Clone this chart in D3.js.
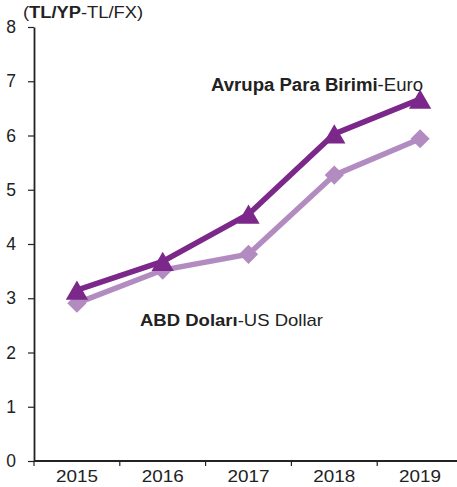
<!DOCTYPE html>
<html>
<head>
<meta charset="utf-8">
<script src="https://cdn.jsdelivr.net/npm/d3@7"></script>
<style>
  body { margin: 0; background: #fff; }
  text { font-family: Arial, "Liberation Sans", sans-serif; fill: #222; }
</style>
</head>
<body>
<div id="chart"></div>
<script>
const years = ['2015', '2016', '2017', '2018', '2019'];
const euroValues = [3.15, 3.68, 4.55, 6.03, 6.67];
const usdValues = [2.91, 3.52, 3.81, 5.27, 5.94];
const yTicks = [0, 1, 2, 3, 4, 5, 6, 7, 8];

const width = 457, height = 487;
const margin = {top: 27, right: -6, bottom: 26, left: 34};
const innerW = width - margin.left - margin.right;
const innerH = height - margin.top - margin.bottom;

const svg = d3.select('#chart').append('svg')
  .attr('width', width)
  .attr('height', height);

const g = svg.append('g')
  .attr('transform', `translate(${margin.left},${margin.top})`);

const x = d3.scaleBand().domain(years).range([0, innerW]);
const y = d3.scaleLinear().domain([0, 8]).range([innerH, 0]);

// y axis
const yAxis = g.append('g')
  .call(d3.axisLeft(y).tickValues(yTicks).tickSize(6).tickPadding(12).tickSizeOuter(0));
yAxis.select('.domain').attr('stroke', '#222').attr('stroke-width', 1.8);
yAxis.selectAll('.tick line').attr('stroke', '#222').attr('stroke-width', 1.2);
yAxis.selectAll('.tick text').attr('font-size', 17.5).attr('fill', '#222')
  .attr('font-family', 'Arial, "Liberation Sans", sans-serif');

// x axis with ticks at band boundaries
const xAxis = g.append('g')
  .attr('transform', `translate(0,${innerH})`);
xAxis.append('line')
  .attr('x1', 0).attr('x2', innerW)
  .attr('stroke', '#222').attr('stroke-width', 1.8);
xAxis.selectAll('.bt').data(years)
  .join('line')
  .attr('class', 'bt')
  .attr('x1', d => x(d)).attr('x2', d => x(d))
  .attr('y1', 0).attr('y2', 5)
  .attr('stroke', '#222').attr('stroke-width', 1.2);
xAxis.selectAll('.lbl').data(years)
  .join('text')
  .attr('class', 'lbl')
  .attr('x', d => x(d) + x.bandwidth() / 2)
  .attr('y', 21)
  .attr('text-anchor', 'middle')
  .attr('font-size', 17)
  .attr('textLength', 42)
  .attr('lengthAdjust', 'spacingAndGlyphs')
  .text(d => d);

const line = d3.line()
  .x((d, i) => x(years[i]) + x.bandwidth() / 2)
  .y(d => y(d));

const series = [
  {name: 'usd', values: usdValues, color: '#B28BC1', symbol: d3.symbolSquare, size: 185, rotate: 45, dy: 0},
  {name: 'euro', values: euroValues, color: '#7B288A', symbol: d3.symbolTriangle, size: 215, rotate: 0, dy: 3.2}
];

series.forEach(s => {
  g.append('path')
    .datum(s.values)
    .attr('d', line)
    .attr('fill', 'none')
    .attr('stroke', s.color)
    .attr('stroke-width', 5.5);
  g.selectAll(`.m-${s.name}`).data(s.values)
    .join('path')
    .attr('class', `m-${s.name}`)
    .attr('transform', (d, i) => `translate(${x(years[i]) + x.bandwidth() / 2},${y(d) + s.dy}) rotate(${s.rotate})`)
    .attr('d', d3.symbol().type(s.symbol).size(s.size))
    .attr('fill', s.color);
});

// labels
const t1 = svg.append('text').attr('x', 23).attr('y', 18).attr('font-size', 16)
  .attr('textLength', 120).attr('lengthAdjust', 'spacingAndGlyphs');
t1.append('tspan').text('(');
t1.append('tspan').attr('font-weight', 'bold').text('TL/YP');
t1.append('tspan').text('-TL/FX)');

const t2 = svg.append('text').attr('x', 211).attr('y', 91).attr('font-size', 17.5)
  .attr('textLength', 212).attr('lengthAdjust', 'spacingAndGlyphs');
t2.append('tspan').attr('font-weight', 'bold').text('Avrupa Para Birimi');
t2.append('tspan').text('-Euro');

const t3 = svg.append('text').attr('x', 140).attr('y', 326).attr('font-size', 17)
  .attr('textLength', 183).attr('lengthAdjust', 'spacingAndGlyphs');
t3.append('tspan').attr('font-weight', 'bold').text('ABD Doları');
t3.append('tspan').text('-US Dollar');
</script>
</body>
</html>
